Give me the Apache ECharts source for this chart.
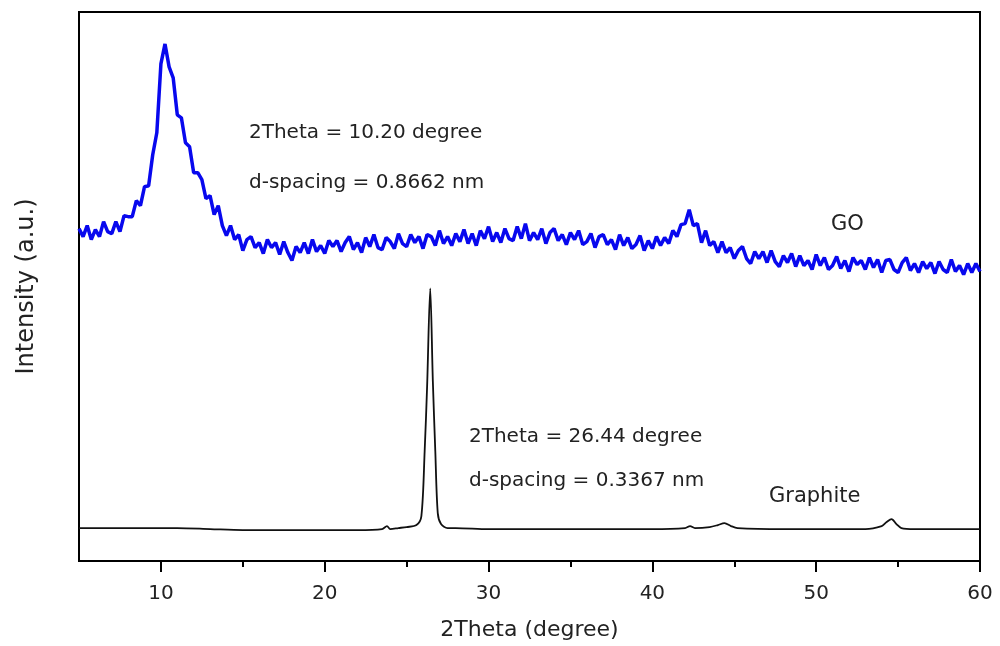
<!DOCTYPE html>
<html>
<head>
<meta charset="utf-8">
<script src="https://cdn.jsdelivr.net/npm/echarts@6/dist/echarts.min.js"></script>
<style>
  html, body { margin: 0; padding: 0; background: #fff; }
  #chart { width: 1000px; height: 646px; }
</style>
</head>
<body>
<div id="chart"></div>
<script>
// GO pattern, every 0.25 degree (intensity in a.u.)
var goTheta = [
  5, 5.25, 5.5, 5.75, 6, 6.25, 6.5, 6.75, 7, 7.25, 7.5, 7.75, 8, 8.25, 8.5, 8.75,
  9, 9.25, 9.5, 9.75, 10, 10.25, 10.5, 10.75, 11, 11.25, 11.5, 11.75, 12, 12.25, 12.5, 12.75,
  13, 13.25, 13.5, 13.75, 14, 14.25, 14.5, 14.75, 15, 15.25, 15.5, 15.75, 16, 16.25, 16.5, 16.75,
  17, 17.25, 17.5, 17.75, 18, 18.25, 18.5, 18.75, 19, 19.25, 19.5, 19.75, 20, 20.25, 20.5, 20.75,
  21, 21.25, 21.5, 21.75, 22, 22.25, 22.5, 22.75, 23, 23.25, 23.5, 23.75, 24, 24.25, 24.5, 24.75,
  25, 25.25, 25.5, 25.75, 26, 26.25, 26.5, 26.75, 27, 27.25, 27.5, 27.75, 28, 28.25, 28.5, 28.75,
  29, 29.25, 29.5, 29.75, 30, 30.25, 30.5, 30.75, 31, 31.25, 31.5, 31.75, 32, 32.25, 32.5, 32.75,
  33, 33.25, 33.5, 33.75, 34, 34.25, 34.5, 34.75, 35, 35.25, 35.5, 35.75, 36, 36.25, 36.5, 36.75,
  37, 37.25, 37.5, 37.75, 38, 38.25, 38.5, 38.75, 39, 39.25, 39.5, 39.75, 40, 40.25, 40.5, 40.75,
  41, 41.25, 41.5, 41.75, 42, 42.25, 42.5, 42.75, 43, 43.25, 43.5, 43.75, 44, 44.25, 44.5, 44.75,
  45, 45.25, 45.5, 45.75, 46, 46.25, 46.5, 46.75, 47, 47.25, 47.5, 47.75, 48, 48.25, 48.5, 48.75,
  49, 49.25, 49.5, 49.75, 50, 50.25, 50.5, 50.75, 51, 51.25, 51.5, 51.75, 52, 52.25, 52.5, 52.75,
  53, 53.25, 53.5, 53.75, 54, 54.25, 54.5, 54.75, 55, 55.25, 55.5, 55.75, 56, 56.25, 56.5, 56.75,
  57, 57.25, 57.5, 57.75, 58, 58.25, 58.5, 58.75, 59, 59.25, 59.5, 59.75, 60
];
var goIntensity = [
  333, 325, 336, 322, 332, 325, 340, 330, 328, 340, 330, 346, 345, 345, 361, 356,
  375, 376, 407, 429, 498, 518, 495, 484, 447, 444, 419, 415, 389, 389, 382, 363,
  366, 347, 356, 336, 326, 336, 322, 327, 311, 322, 325, 314, 319, 308, 322, 314,
  319, 307, 320, 309, 301, 315, 309, 319, 308, 322, 310, 316, 308, 321, 315, 321,
  310, 319, 325, 312, 319, 309, 324, 315, 327, 314, 312, 324, 320, 313, 328, 318,
  315, 327, 319, 325, 313, 327, 325, 316, 331, 318, 325, 316, 328, 320, 332, 318,
  328, 316, 331, 323, 335, 320, 329, 319, 333, 323, 321, 335, 323, 338, 321, 329,
  322, 333, 318, 329, 333, 321, 327, 317, 329, 322, 331, 317, 320, 328, 314, 325,
  327, 317, 322, 312, 327, 316, 324, 313, 317, 326, 311, 321, 313, 325, 316, 324,
  318, 331, 325, 337, 338, 352, 336, 338, 319, 331, 316, 320, 309, 320, 309, 314,
  303, 311, 315, 303, 298, 310, 303, 310, 299, 311, 300, 295, 306, 299, 308, 295,
  306, 296, 301, 292, 307, 296, 304, 292, 296, 305, 293, 301, 290, 304, 297, 301,
  292, 304, 294, 302, 289, 301, 302, 292, 289, 299, 304, 291, 298, 289, 300, 293,
  299, 288, 300, 292, 289, 302, 290, 296, 287, 298, 289, 298, 290
];

// Graphite pattern
var graphiteTheta = [
  5, 8, 11, 13, 15, 20, 22, 23.5, 23.8, 24, 24.5, 25, 25.6, 25.9, 26.1, 26.25, 26.44,
  26.6, 26.75, 26.9, 27.1, 27.5, 28, 30, 35, 40, 42, 42.3, 42.6, 43.5, 44, 44.4, 44.8,
  45.2, 48, 50, 53, 54, 54.3, 54.6, 54.9, 55.2, 56, 60
];
var graphiteIntensity = [
  33, 33, 33, 32, 31, 31, 31, 32, 35, 32, 33, 34, 36, 45, 110, 175, 273,
  180, 110, 48, 37, 33, 33, 32, 32, 32, 33, 35, 33, 34, 36, 38, 35,
  33, 32, 32, 32, 35, 39, 42, 37, 33, 32, 32
];

var majorTicks = [10, 20, 30, 40, 50, 60];
var minorTicks = [15, 25, 35, 45, 55];

function pairs(xs, ys) {
  var out = [];
  for (var i = 0; i < xs.length; i++) out.push([xs[i], ys[i]]);
  return out;
}

var chart = echarts.init(document.getElementById('chart'));
var textFont = 'DejaVu Sans';

chart.setOption({
  animation: false,
  backgroundColor: '#fff',
  grid: {
    left: 79, right: 20, top: 12, bottom: 84,
    show: true, borderColor: '#000', borderWidth: 2
  },
  xAxis: [{
    type: 'value', min: 5, max: 60,
    name: '2Theta (degree)', nameLocation: 'middle', nameGap: 58,
    nameTextStyle: { fontFamily: textFont, fontSize: 22, color: '#222' },
    axisLine: { show: true, lineStyle: { color: '#000', width: 2 } },
    axisTick: { show: true, length: 11, customValues: majorTicks, lineStyle: { color: '#000', width: 2 } },
    axisLabel: { customValues: majorTicks, fontFamily: textFont, fontSize: 20, color: '#222', margin: 23 },
    splitLine: { show: false }
  }, {
    type: 'value', min: 5, max: 60, position: 'bottom',
    axisLine: { show: false },
    axisTick: { show: true, length: 6, customValues: minorTicks, lineStyle: { color: '#000', width: 2 } },
    axisLabel: { show: false },
    splitLine: { show: false }
  }],
  yAxis: {
    type: 'value', min: 0, max: 550,
    name: 'Intensity (a.u.)', nameLocation: 'middle', nameGap: 40,
    nameTextStyle: { fontFamily: textFont, fontSize: 24, color: '#222' },
    axisLine: { show: true, lineStyle: { color: '#000', width: 2 } },
    axisTick: { show: false },
    axisLabel: { show: false },
    splitLine: { show: false }
  },
  series: [{
    name: 'GO', type: 'line', xAxisIndex: 0,
    data: pairs(goTheta, goIntensity),
    showSymbol: false, symbol: 'none',
    lineStyle: { color: '#0808ee', width: 3.5 }
  }, {
    name: 'Graphite', type: 'line', xAxisIndex: 0,
    data: pairs(graphiteTheta, graphiteIntensity),
    showSymbol: false, symbol: 'none', smooth: 0.3,
    lineStyle: { color: '#111', width: 1.8 }
  }],
  graphic: [
    { type: 'text', left: 249, top: 123, style: { text: '2Theta = 10.20 degree', font: '20px "DejaVu Sans"', fill: '#222' } },
    { type: 'text', left: 249, top: 173, style: { text: 'd-spacing = 0.8662 nm', font: '20px "DejaVu Sans"', fill: '#222' } },
    { type: 'text', left: 831, top: 214, style: { text: 'GO', font: '21px "DejaVu Sans"', fill: '#222' } },
    { type: 'text', left: 469, top: 427, style: { text: '2Theta = 26.44 degree', font: '20px "DejaVu Sans"', fill: '#222' } },
    { type: 'text', left: 469, top: 471, style: { text: 'd-spacing = 0.3367 nm', font: '20px "DejaVu Sans"', fill: '#222' } },
    { type: 'text', left: 769, top: 486, style: { text: 'Graphite', font: '21px "DejaVu Sans"', fill: '#222' } }
  ]
});
</script>
</body>
</html>
